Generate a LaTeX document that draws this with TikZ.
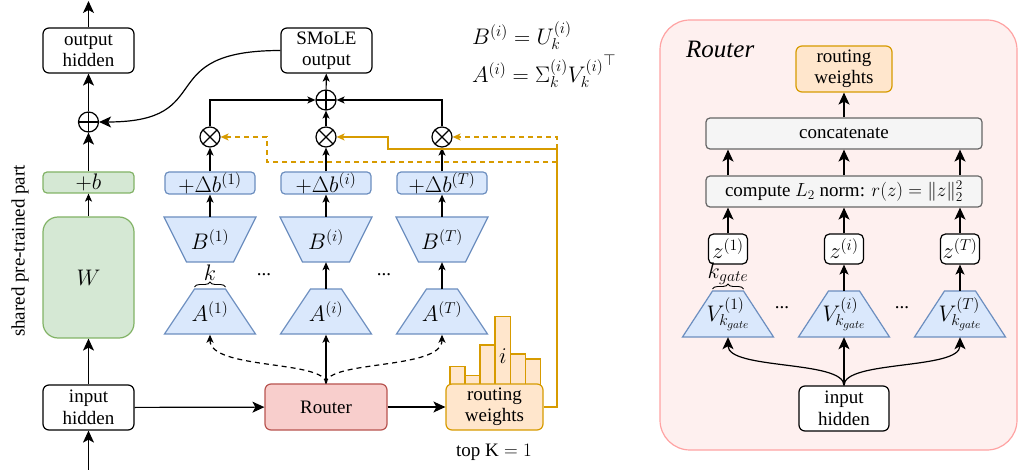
\RequirePackage{fix-cm}
\documentclass[tikz,border=0pt]{standalone}
\usepackage{fontspec}
\setmainfont{Liberation Serif}
\usetikzlibrary{arrows.meta,calc,decorations.pathreplacing}
\newcommand\myfs{\fontsize{19}{21.5}\selectfont}
\newcommand\mfs{\fontsize{22.5}{26}\selectfont}
\definecolor{gF}{HTML}{D5E8D4}\definecolor{gD}{HTML}{82B366}
\definecolor{bF}{HTML}{DAE8FC}\definecolor{bD}{HTML}{6C8EBF}
\definecolor{rF}{HTML}{F8CECC}\definecolor{rD}{HTML}{B85450}
\definecolor{oF}{HTML}{FFE6CC}\definecolor{oD}{HTML}{D79B00}
\definecolor{grF}{HTML}{F5F5F5}\definecolor{grD}{HTML}{666666}
\definecolor{pF}{HTML}{FEF0EF}\definecolor{pD}{HTML}{FFA3A3}
\tikzset{
  every node/.style={font=\myfs, inner sep=0pt},
  mth/.style={font=\mfs},
  line/.style={line width=1.2pt, black},
  arrB/.style={line, -{Stealth[length=12pt,width=11pt,inset=3pt]}},
  arrS/.style={line, -{Stealth[length=8pt,width=7pt,inset=2pt]}},
  arrM/.style={line, -{Stealth[length=10pt,width=9pt,inset=2.5pt]}},
  box/.style={draw, line width=1.2pt, rounded corners=6pt, fill=white, minimum width=91pt, minimum height=45pt, align=center},
  gbox/.style={mth, draw=gD, fill=gF, line width=1.2pt, rounded corners=4pt, minimum width=91pt, minimum height=21pt},
  bbox/.style={mth, draw=bD, fill=bF, line width=1.2pt, rounded corners=4pt, minimum width=90pt, minimum height=22pt},
  trap/.style={draw=bD, fill=bF, line width=1.2pt},
  grbox/.style={draw=grD, fill=grF, line width=1.2pt, rounded corners=4pt, minimum width=276pt, minimum height=31pt},
  obox/.style={draw=oD, fill=oF, line width=1.2pt, rounded corners=6pt, minimum width=96pt, minimum height=46pt, align=center},
  oline/.style={line width=1.2pt, draw=oD, -{Stealth[length=8pt,width=7pt,inset=2pt]}},
  odash/.style={oline, dash pattern=on 5pt off 4pt},
  opl/.style={circle, draw, line width=1.2pt, fill=white, minimum size=20pt, path picture={\draw[line width=1.2pt] (path picture bounding box.north)--(path picture bounding box.south) (path picture bounding box.west)--(path picture bounding box.east);}},
  otm/.style={circle, draw, line width=1.2pt, fill=white, minimum size=20pt, path picture={\draw[line width=1.2pt] (path picture bounding box.north east)--(path picture bounding box.south west) (path picture bounding box.north west)--(path picture bounding box.south east);}},
  brc/.style={decorate, decoration={brace, amplitude=5pt}, line width=0.9pt},
}
\begin{document}
\begin{tikzpicture}[x=1pt,y=-1pt]
\useasboundingbox (0,0) rectangle (1018,470);

% ---------------- left: shared part ----------------
\node[box] (oh) at (88.5,50.5) {output\\hidden};
\coordinate (top) at (88.5,1);
\node[opl] (sumL) at (88.5,122) {};
\node[gbox] (bb) at (88.5,182.5) {$+b$};
\node[gbox, rounded corners=15pt, minimum height=121pt] (W) at (88.5,277.5) {$W$};
\node[box] (ih) at (88.5,407.5) {input\\hidden};
\coordinate (bot) at (88.5,470);
\node[rotate=90] (shared) at (20,251) {shared pre-trained part};

\draw[arrB] (oh) -- (top);
\draw[arrB] (sumL) -- (oh);
\draw[arrB] (bb) -- (sumL);
\draw[arrS] (W) -- (bb);
\draw[arrB] (ih) -- (W);
\draw[arrB] (bot) -- (ih);

% ---------------- experts ----------------
\node[box] (so) at (326.5,50.5) {SMoLE\\output};
\draw[arrB] (so.west) .. controls (150,50.5) and (220,122) .. (sumL.east);
\node[opl] (sumE) at (326,100) {};
\draw[arrS] (sumE) -- (so);

\foreach \n/\x/\s in {1/210/(1), i/326/(i), T/442/(T)}{
  \node[otm] (m\n) at (\x,137) {};
  \node[bbox] (d\n) at (\x,183) {$+\Delta b^{\s}$};
  \draw[trap] (\x-46,217) -- (\x+46,217) -- (\x+23.5,262) -- (\x-23.5,262) -- cycle;
  \node[mth, minimum width=47pt, minimum height=45pt] (B\n) at (\x,239.5) {$B^{\s}$};
  \draw[trap] (\x-15.5,289) -- (\x+15.5,289) -- (\x+45.5,334) -- (\x-45.5,334) -- cycle;
  \node[mth, minimum width=31pt, minimum height=45pt] (A\n) at (\x,312) {$A^{\s}$};
  \draw[arrS] (d\n) -- (m\n);
  \draw[arrS] (B\n) -- (d\n);
}
\draw[arrS] (Ai) -- (Bi);
\draw[arrS] (AT) -- (BT);
\draw[arrS] (mi) -- (sumE);
\draw[arrS] (m1.north) |- (sumE.west);
\draw[arrS] (mT.north) |- (sumE.east);

\draw[brc] (194.5,287) -- (225.5,287);
\node[mth] (k) at (210,273) {$k$};
\node (dots1) at (264,275) {...};
\node (dots2) at (384,275) {...};

% formulas
\node[mth, anchor=base west] (fB) at (472,45) {$B^{(i)} = U_k^{(i)}$};
\node[mth, anchor=base west] (fA) at (472,83) {$A^{(i)} = \Sigma_k^{(i)} {V_k^{(i)}}^{\top}$};

% router and routing weights
\node[draw=rD, fill=rF, line width=1.2pt, rounded corners=6pt, minimum width=122pt, minimum height=46pt] (rt) at (326,407) {Router};
\foreach \a/\b/\t in {450/465/366.7, 465/480/375.7, 480/495/345, 495/510.5/316.7, 510.5/525.5/354, 525.5/540.5/359}{
  \draw[draw=oD, fill=oF, line width=1.2pt] (\a,388) rectangle (\b,\t);
}
\node[mth] (ibar) at (503,356) {$i$};
\node[obox, minimum width=97pt] (rw) at (494.5,407) {routing\\weights};
\node (topk) at (494,452) {top $\mathrm{K}=1$};

\draw[arrB] (ih) -- (rt);
\draw[arrB] (rt) -- (rw);
\draw[arrS] (rt.north) -- (Ai.south);
\draw[arrS, dash pattern=on 5pt off 4pt] (rt.north) .. controls (326,360) and (210,370) .. (A1.south);
\draw[arrS, dash pattern=on 5pt off 4pt] (rt.north) .. controls (326,360) and (442,370) .. (AT.south);

\coordinate (oc1) at (557,149);
\coordinate (oc2) at (557,162);
\draw[oline] (rw.east) -| (oc1) -- (388,149) |- (mi.east);
\draw[odash] (oc1) |- (mT.east);
\draw[odash] (oc2) -- (267,162) |- (m1.east);

% ---------------- right panel ----------------
\node[draw=pD, fill=pF, line width=1.2pt, rounded corners=30pt, minimum width=357pt, minimum height=430pt] (panel) at (838.5,235) {};
\node[anchor=base west, font=\fontsize{25}{30}\selectfont\itshape] (rtitle) at (686,58) {Router};
\node[obox] (rw2) at (844,69) {routing\\weights};
\node[grbox] (cat) at (844,133.5) {concatenate};
\node[grbox] (l2) at (844,191.5) {compute $L_2$ norm: $r(z) = \|z\|_2^2$};
\draw[arrB] (cat) -- (rw2);
\node[box, minimum width=90pt] (ih2) at (844,408.5) {input\\hidden};
\foreach \n/\x/\s in {1/728/(1), i/844/(i), T/960/(T)}{
  \node[mth, draw, fill=white, line width=1.2pt, rounded corners=5pt, minimum width=39pt, minimum height=30pt] (z\n) at (\x,249) {$z^{\s}$};
  \draw[trap] (\x-15.5,291) -- (\x+15.5,291) -- (\x+45.5,337) -- (\x-45.5,337) -- cycle;
  \node[mth, minimum width=31pt, minimum height=46pt] (V\n) at (\x,314) {$V^{\s}_{k_{gate}}$};
  \draw[arrB] (l2.north -| z\n) -- (cat.south -| z\n);
  \draw[arrB] (z\n) -- (l2.south -| z\n);
}
\draw[arrM] (Vi) -- (zi);
\draw[arrM] (VT) -- (zT);
\draw[arrB] (ih2.north) -- (Vi.south);
\draw[arrB] (ih2.north) .. controls (844,360) and (728,370) .. (V1.south);
\draw[arrB] (ih2.north) .. controls (844,360) and (960,370) .. (VT.south);
\draw[brc] (712.5,289) -- (743.5,289);
\node[mth] (kg) at (728,274) {$k_{gate}$};
\node (dots3) at (782,308) {...};
\node (dots4) at (902,308) {...};
\end{tikzpicture}
\end{document}
